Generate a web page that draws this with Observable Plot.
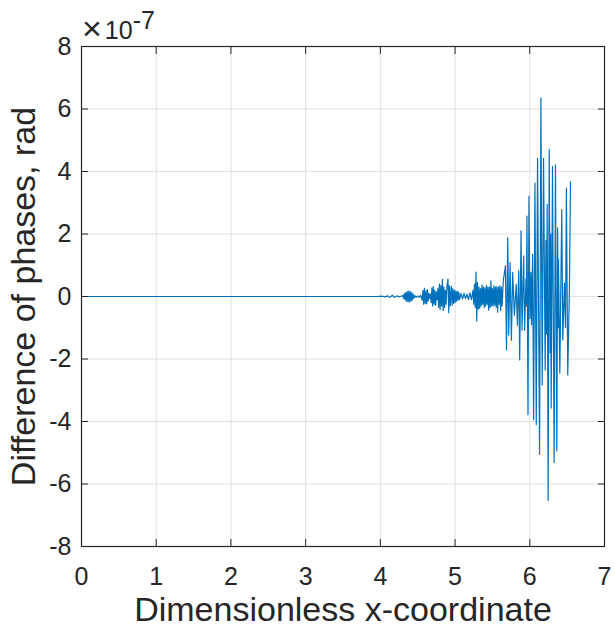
<!DOCTYPE html>
<html><head><meta charset="utf-8">
<script src="https://cdn.jsdelivr.net/npm/d3@7"></script>
<script src="https://cdn.jsdelivr.net/npm/@observablehq/plot@0.6"></script>
<style>body{margin:0;background:#fff}</style>
</head><body><div id="chart"></div>
<script>
// x: dimensionless coordinate; y: phase difference in units of 1e-7 rad
const xs = [0,3.95,4.02,4.06,4.10,4.13,4.16,4.19,4.22,4.26,
4.30,4.31,4.32,4.33,4.34,4.35,4.36,4.37,4.38,4.39,4.40,4.41,4.42,4.43,4.44,4.45,4.46,4.48,4.50,4.52,4.54,
4.56,4.57,4.58,4.59,4.60,4.61,4.62,4.63,4.64,4.65,4.66,4.67,
4.68,4.69,4.70,4.71,4.72,4.73,4.74,4.75,4.76,
4.77,4.78,4.79,4.80,4.81,4.82,4.83,4.84,4.85,4.86,4.87,4.88,4.89,
4.905,4.915,4.925,4.935,4.95,4.96,4.97,4.98,4.99,5.00,5.01,5.02,5.03,5.04,5.05,5.06,5.08,5.10,5.12,5.14,5.16,5.18,5.20,5.22,
5.24,5.25,5.26,5.27,5.28,5.29,5.30,5.31,5.32,5.33,5.34,5.35,5.36,5.37,5.38,5.39,5.40,5.41,5.42,5.43,5.44,5.45,5.46,5.47,5.48,5.49,
5.50,5.51,5.52,5.53,5.54,5.55,5.56,5.57,5.58,5.59,5.60,5.61,5.62,5.63,5.645,
5.674,5.688,5.705,5.718,5.736,5.754,5.771,5.794,5.818,5.834,5.852,5.865,5.883,5.896,5.918,5.931,5.949,5.955,5.962,5.976,5.989,6.002,6.016,
6.023,6.038,6.051,6.069,6.087,6.104,6.131,6.149,6.166,6.184,6.206,6.216,6.223,6.233,6.246,6.26,6.273,6.28,6.286,6.304,6.326,6.344,6.362,
6.373,6.378,6.384,6.402,6.428,6.442,6.464,6.478,6.49,6.508,6.53,6.545];
const ys = [0,0,0.01,-0.01,0.02,-0.03,0.04,-0.03,0.02,-0.01,
0.03,-0.06,0.09,-0.11,0.13,-0.15,0.16,-0.17,0.17,-0.17,0.16,-0.15,0.13,-0.11,0.08,-0.05,0.03,-0.03,0.02,-0.03,0.04,
-0.12,0.2,-0.25,0.26,-0.22,0.18,-0.24,0.22,-0.15,0.1,-0.06,0.08,
-0.2,0.28,-0.3,0.32,-0.25,0.2,-0.28,0.15,-0.1,
0.25,-0.35,0.4,-0.42,0.35,-0.3,0.55,-0.45,0.3,-0.35,0.2,-0.25,0.3,
0.56,-0.52,0.35,-0.3,0.32,-0.28,0.25,-0.22,0.2,-0.2,0.18,-0.15,0.16,-0.12,0.14,-0.1,0.1,-0.08,0.1,-0.07,0.08,-0.1,0.12,-0.1,
0.2,-0.25,0.4,-0.35,0.78,-0.78,0.45,-0.4,0.3,-0.38,0.25,-0.3,0.37,-0.25,0.3,-0.35,0.28,-0.3,0.35,-0.25,0.3,-0.44,0.3,-0.35,0.5,-0.3,
0.25,-0.3,0.35,-0.28,0.3,-0.35,0.32,-0.5,0.3,-0.25,0.35,-0.45,0.3,-0.3,0.5,
0.98,-1.71,1.88,-1.24,1.09,-1.40,0.77,-0.60,0.40,-0.92,0.83,-2.03,2.10,-1.08,1.30,-1.08,0.56,-0.3,2.57,-3.78,3.21,-0.71,0.77,
-0.9,1.35,-3.94,3.63,-4.10,4.42,-5.05,6.36,-2.83,4.42,-2.35,1.8,-1.2,2.94,-6.53,4.71,-1.8,2.0,-3.57,4.16,-5.31,4.21,-4.94,
2.2,-1.0,1.20,-2.45,2.78,-1.40,0.43,-1.0,3.47,-2.51,0.2,3.68];
const xTicks = [0,1,2,3,4,5,6,7];
const yTicks = [-8,-6,-4,-2,0,2,4,6,8];
const xLabel = "Dimensionless x-coordinate";
const yLabel = "Difference of phases, rad";
const expTimes = "×";
const expBase = "10";
const expPower = "-7";

const data = xs.map((x, i) => ({x, y: ys[i]}));
const ink = "#262626";
const font = "'Liberation Sans', Arial, sans-serif";
const chart = Plot.plot({
  width: 615, height: 631,
  marginLeft: 81, marginRight: 11, marginTop: 46, marginBottom: 85,
  style: {fontFamily: font, background: "#fff", color: ink},
  x: {domain: [0, 7]},
  y: {domain: [-8, 8]},
  marks: [
    Plot.gridX(xTicks, {stroke: "#e0e0e0", strokeOpacity: 1}),
    Plot.gridY(yTicks, {stroke: "#e0e0e0", strokeOpacity: 1}),
    Plot.line(data, {x: "x", y: "y", stroke: "#0072BD", strokeWidth: 1.2}),
    Plot.frame({stroke: ink, strokeWidth: 1.2}),
    Plot.axisX(xTicks, {anchor: "bottom", tickSize: 0, tickPadding: 21, fontSize: 25, label: null, fill: ink, tickFormat: d => String(d)}),
    Plot.axisX(xTicks, {anchor: "bottom", tickSize: -7, tickFormat: () => "", label: null, stroke: ink}),
    Plot.axisX(xTicks, {anchor: "top", tickSize: -7, tickFormat: () => "", label: null, stroke: ink}),
    Plot.axisY(yTicks, {anchor: "left", tickSize: 0, tickPadding: 10, fontSize: 25, label: null, fill: ink, tickFormat: d => String(d)}),
    Plot.axisY(yTicks, {anchor: "left", tickSize: -7, tickFormat: () => "", label: null, stroke: ink}),
    Plot.axisY(yTicks, {anchor: "right", tickSize: -7, tickFormat: () => "", label: null, stroke: ink}),
    Plot.text([xLabel], {frameAnchor: "bottom", textAnchor: "middle", lineAnchor: "middle", dy: 64, fontSize: 34, fill: ink}),
    Plot.text([yLabel], {frameAnchor: "left", textAnchor: "middle", lineAnchor: "middle", rotate: -90, dx: -57, fontSize: 34, fill: ink})
  ]
});
document.getElementById("chart").appendChild(chart);
// exponent annotation above the y axis
const svg = d3.select(chart);
const t = svg.append("text").attr("x", 82).attr("y", 39)
  .style("font-family", font).style("fill", ink).style("font-size", "25px")
  .style("text-anchor", "start");
t.append("tspan").style("font-size", "34px").attr("dy", 1).text(expTimes);
t.append("tspan").attr("dx", 3).attr("dy", -1).text(expBase);
t.append("tspan").attr("dy", -10).text(expPower);
</script>
</body></html>
